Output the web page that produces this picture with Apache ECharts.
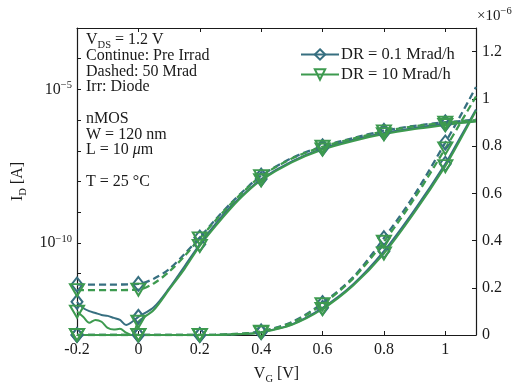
<!DOCTYPE html>
<html>
<head>
<meta charset="utf-8">
<script src="https://cdn.jsdelivr.net/npm/echarts@6/dist/echarts.min.js"></script>
<style>
  html, body { margin: 0; padding: 0; background: #fff; }
  #chart { width: 523px; height: 390px; }
</style>
</head>
<body>
<div id="chart"></div>
<script>
// gate voltage grids [V]
const vgFine = [-0.2, -0.18, -0.16, -0.14, -0.12, -0.1, -0.08, -0.06, -0.04, -0.02, 0,
  0.05, 0.1, 0.15, 0.2, 0.25, 0.3, 0.35, 0.4, 0.5, 0.6, 0.7, 0.8, 0.9, 1.0, 1.05, 1.1];
const vgCoarse = [-0.2, -0.1, 0, 0.05, 0.1, 0.15, 0.2, 0.25, 0.3, 0.35, 0.4, 0.5, 0.6, 0.7, 0.8, 0.9, 1.0, 1.05, 1.1];
const markerVg = [-0.2, 0, 0.2, 0.4, 0.6, 0.8, 1.0];

// drain current, log axis [A]
const logSlowPre = [1.2e-12, 7.6e-13, 6.0e-13, 5.2e-13, 4.5e-13, 4.2e-13, 3.6e-13, 3.1e-13, 2.1e-13, 2.7e-13, 3.9e-13,
  8e-13, 3.3e-12, 1.7e-11, 9e-11, 4e-10, 1.5e-9, 4.5e-9, 1.2e-8, 4.5e-8, 1.2e-7, 2.3e-7, 3.8e-7, 5.5e-7, 7.4e-7, 8.3e-7, 9.3e-7];
const logFastPre = [5.8e-13, 3.9e-13, 2.5e-13, 3.1e-13, 2.7e-13, 1.7e-13, 1.5e-13, 1.6e-13, 1.2e-13, 1.0e-13, 2.7e-13,
  6.5e-13, 3e-12, 1.4e-11, 8e-11, 3.4e-10, 1.3e-9, 4.2e-9, 1.1e-8, 4.2e-8, 1.1e-7, 2.1e-7, 3.5e-7, 5.1e-7, 6.9e-7, 8e-7, 9e-7];
const logSlowPost = [4.4e-12, 4.4e-12, 4.6e-12, 6.8e-12, 1.4e-11, 4.3e-11, 1.5e-10, 5.6e-10, 1.9e-9, 5.8e-9, 1.55e-8,
  5.8e-8, 1.4e-7, 2.6e-7, 4.5e-7, 6.5e-7, 8.5e-7, 9.3e-7, 1.05e-6];
const logFastPost = [2.9e-12, 2.9e-12, 3.0e-12, 4.8e-12, 1.15e-11, 3.7e-11, 1.4e-10, 5.2e-10, 1.8e-9, 5.5e-9, 1.5e-8,
  5.6e-8, 1.35e-7, 2.5e-7, 4.3e-7, 6.3e-7, 8.2e-7, 9e-7, 1.0e-6];

// drain current, linear axis [x1e-6 A]
const linSlowPre = [0, 0, 0, 0, 0, 0, 0, 0.0005, 0.002, 0.005, 0.012, 0.045, 0.115, 0.215, 0.355, 0.53, 0.725, 0.84, 0.955];
const linFastPre = [0, 0, 0, 0, 0, 0, 0, 0.0005, 0.002, 0.005, 0.011, 0.043, 0.11, 0.21, 0.345, 0.52, 0.715, 0.83, 0.95];
const linSlowPost = [0, 0, 0, 0, 0, 0, 0, 0.001, 0.003, 0.007, 0.015, 0.055, 0.135, 0.245, 0.41, 0.595, 0.815, 0.93, 1.05];
const linFastPost = [0, 0, 0, 0, 0, 0, 0, 0.001, 0.003, 0.007, 0.014, 0.052, 0.13, 0.24, 0.395, 0.58, 0.79, 0.9, 1.01];

const xTicks = [-0.2, 0, 0.2, 0.4, 0.6, 0.8, 1];
const rightTicks = [0, 0.2, 0.4, 0.6, 0.8, 1, 1.2];

const SLOW = '#376f80';
const FAST = '#3d9a4f';
const NAME_SLOW = 'DR = 0.1 Mrad/h';
const NAME_FAST = 'DR = 10 Mrad/h';
const FONT = 'Liberation Serif';
const INK = '#1a1a1a';

function points(xs, ys) {
  return xs.map((x, i) => markerVg.includes(x) ? { value: [x, ys[i]] } : { value: [x, ys[i]], symbol: 'none' });
}

function makeSeries(name, color, xs, ys, yAxisIndex, dashed) {
  const isSlow = name === NAME_SLOW;
  return {
    name,
    type: 'line',
    yAxisIndex,
    data: points(xs, ys),
    smooth: 0.3,
    showAllSymbol: true,
    symbol: isSlow ? 'diamond' : 'triangle',
    symbolRotate: isSlow ? 0 : 180,
    symbolSize: isSlow ? [11, 14] : [14, 12],
    itemStyle: { color: 'rgba(255,255,255,0)', borderColor: color, borderWidth: 2 },
    lineStyle: { color, width: dashed ? 2.3 : 2, type: dashed ? [7, 4] : 'solid' },
    emphasis: { disabled: true },
    animation: false
  };
}

const chart = echarts.init(document.getElementById('chart'));

const subRich = {
  n: { fontFamily: FONT, fontSize: 16, color: INK, verticalAlign: 'bottom' },
  s: { fontFamily: FONT, fontSize: 10.5, color: INK, verticalAlign: 'bottom', padding: [0, 0, -3, 0] }
};

chart.setOption({
  backgroundColor: '#fff',
  textStyle: { fontFamily: FONT },
  grid: { left: 77, right: 47, top: 28, bottom: 49 },
  legend: {
    data: [NAME_SLOW, NAME_FAST],
    orient: 'vertical',
    left: 295,
    top: 41,
    itemWidth: 38,
    itemHeight: 13,
    itemGap: 3,
    textStyle: { fontFamily: FONT, fontSize: 16.5, color: INK, padding: [0, 0, 0, -3] }
  },
  xAxis: [
    {
      type: 'value', min: -0.2, max: 1.1, interval: 0.2,
      name: '{n|V}{s|G}{n| [V]}',
      nameLocation: 'middle', nameGap: 31,
      nameTextStyle: { rich: subRich },
      axisLine: { onZero: false, lineStyle: { color: INK, width: 1.2 } },
      axisTick: { inside: true, length: 4, lineStyle: { color: INK } },
      axisLabel: {
        fontFamily: FONT, fontSize: 16, color: INK, margin: 7, showMaxLabel: false,
        formatter: v => xTicks.some(t => Math.abs(t - v) < 1e-9) ? (Math.abs(v) < 1e-9 ? '0' : String(+v.toFixed(1))) : ''
      },
      splitLine: { show: false }
    },
    {
      type: 'value', position: 'top', min: -0.2, max: 1.1, interval: 0.2,
      axisLine: { onZero: false, lineStyle: { color: INK, width: 1.2 } },
      axisTick: { inside: true, length: 4, lineStyle: { color: INK } },
      axisLabel: { show: false },
      splitLine: { show: false }
    }
  ],
  yAxis: [
    {
      type: 'log', logBase: 10, min: 1e-13, max: 1e-3, splitNumber: 10,
      name: '{n|I}{s|D}{n| [A]}',
      nameLocation: 'middle', nameGap: 42, nameRotate: 90,
      nameTextStyle: { rich: subRich },
      axisLine: { show: true, onZero: false, lineStyle: { color: INK, width: 1.2 } },
      axisTick: { inside: true, length: 4, lineStyle: { color: INK } },
      axisLabel: {
        margin: 5,
        formatter: v => {
          const e = Math.round(Math.log10(v));
          return (e === -5 || e === -10) ? '{b|10}{p|\u2212' + (-e) + '}' : '';
        },
        rich: {
          b: { fontFamily: FONT, fontSize: 16, color: INK },
          p: { fontFamily: FONT, fontSize: 10.5, color: INK, verticalAlign: 'top', padding: [0, 0, 8, 0] }
        }
      },
      splitLine: { show: false }
    },
    {
      type: 'value', position: 'right', min: 0, max: 1.3, interval: 0.2,
      axisLine: { show: true, onZero: false, lineStyle: { color: INK, width: 1.2 } },
      axisTick: { inside: true, length: 4, lineStyle: { color: INK } },
      axisLabel: {
        fontFamily: FONT, fontSize: 16, color: INK, margin: 6, showMaxLabel: false,
        formatter: v => rightTicks.some(t => Math.abs(t - v) < 1e-9) ? String(+v.toFixed(1)) : ''
      },
      splitLine: { show: false }
    }
  ],
  graphic: [
    {
      type: 'text', left: 86, top: 32,
      style: {
        text: '{n|V}{s|DS}{n| = 1.2 V}\nContinue: Pre Irrad\nDashed: 50 Mrad\nIrr: Diode\n\nnMOS\nW = 120 nm\nL = 10 {i|\u03bc}m\n\nT = 25 \u00b0C',
        font: '16px "' + FONT + '"', fill: INK, lineHeight: 15.7,
        rich: {
          n: { fontFamily: FONT, fontSize: 16, lineHeight: 15.7, verticalAlign: 'bottom' },
          s: { fontFamily: FONT, fontSize: 10.5, lineHeight: 15.7, verticalAlign: 'bottom', padding: [0, 0, -3, 0] },
          i: { fontFamily: FONT, fontSize: 16, fontStyle: 'italic', lineHeight: 15.7 }
        }
      }
    },
    {
      type: 'text', left: 477, top: 6,
      style: {
        text: '{b|\u00d710}{p|\u22126}',
        rich: {
          b: { fontFamily: FONT, fontSize: 15, fill: INK, verticalAlign: 'bottom' },
          p: { fontFamily: FONT, fontSize: 10.5, fill: INK, verticalAlign: 'bottom', padding: [0, 0, 7, 0] }
        }
      }
    }
  ],
  series: [
    makeSeries(NAME_SLOW, SLOW, vgFine, logSlowPre, 0, false),
    makeSeries(NAME_SLOW, SLOW, vgCoarse, logSlowPost, 0, true),
    makeSeries(NAME_SLOW, SLOW, vgCoarse, linSlowPre, 1, false),
    makeSeries(NAME_SLOW, SLOW, vgCoarse, linSlowPost, 1, true),
    makeSeries(NAME_FAST, FAST, vgFine, logFastPre, 0, false),
    makeSeries(NAME_FAST, FAST, vgCoarse, logFastPost, 0, true),
    makeSeries(NAME_FAST, FAST, vgCoarse, linFastPre, 1, false),
    makeSeries(NAME_FAST, FAST, vgCoarse, linFastPost, 1, true)
  ]
});
</script>
</body>
</html>
